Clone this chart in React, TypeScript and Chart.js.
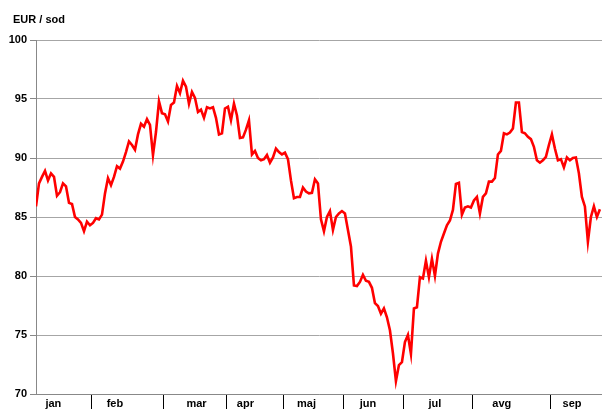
import React, { useEffect, useRef } from "react";
import { Chart, registerables } from "chart.js";

Chart.register(...registerables);

const UNIT_LABEL = "EUR / sod";

const PRICES: number[] = [
  85.9, 87.85, 88.4, 88.9, 88.1, 88.7, 88.4, 86.8, 87.1, 87.85,
  87.6, 86.2, 86.1, 85.0, 84.8, 84.5, 83.8, 84.6, 84.3, 84.5,
  84.9, 84.8, 85.2, 87.0, 88.3, 87.7, 88.4, 89.3, 89.1, 89.7,
  90.5, 91.4, 91.1, 90.7, 92.0, 92.9, 92.65, 93.3, 92.8, 90.25,
  92.2, 94.8, 93.8, 93.7, 93.1, 94.5, 94.7, 96.1, 95.5, 96.55,
  96.05, 94.6, 95.6, 95.1, 93.9, 94.1, 93.4, 94.3, 94.2, 94.3,
  93.4, 92.0, 92.1, 94.2, 94.35, 93.2, 94.6, 93.6, 91.7, 91.75,
  92.4, 93.2, 90.3, 90.6, 90.0, 89.8, 89.9, 90.25, 89.6, 90.05,
  90.8, 90.5, 90.3, 90.45, 89.9, 88.1, 86.6, 86.7, 86.7, 87.5,
  87.15, 87.0, 87.05, 88.2, 87.85, 84.8, 83.8, 85.0, 85.5, 83.9,
  85.0, 85.3, 85.5, 85.3, 83.9, 82.5, 79.2, 79.15, 79.5, 80.1,
  79.6, 79.5, 79.0, 77.7, 77.45, 76.8, 77.25, 76.5, 75.4, 73.45,
  71.1, 72.45, 72.7, 74.4, 75.0, 73.4, 77.25, 77.35, 79.9, 79.8,
  81.3, 79.9, 81.45, 80.0, 81.9, 82.9, 83.6, 84.3, 84.7, 85.6,
  87.8, 87.9, 85.2, 85.8, 85.9, 85.8, 86.4, 86.7, 85.3, 86.7,
  87.0, 88.0, 88.0, 88.3, 90.3, 90.6, 92.1, 92.0, 92.15, 92.5,
  94.7, 94.7, 92.2, 92.1, 91.8, 91.6, 90.95, 89.8, 89.6, 89.8,
  90.1, 91.1, 92.0, 90.8, 89.8, 89.9, 89.2, 90.05, 89.8, 90.0,
  90.05, 88.7, 86.7, 85.9, 82.9, 85.0, 85.9, 85.0, 85.65,
];

const MONTHS = ["jan", "feb", "mar", "apr", "maj", "jun", "jul", "avg", "sep"];
// positions (in trading-day index units) where each month name sits
const MONTH_LABEL_POS = [5.8, 26.3, 53.5, 69.8, 90.2, 110.7, 133, 155.3, 178.7];
// month boundaries (tick marks), index units
const MONTH_BOUNDARIES = [18.5, 42.5, 63.5, 82.5, 102.5, 122.5, 145.5, 171.5];

const X_MIN = 0;
const X_MAX = 188.7;
const Y_MIN = 70;
const Y_MAX = 100;
const Y_STEP = 5;

const FONT_FAMILY = "'Liberation Sans', Arial, sans-serif";

const titlePlugin = {
  id: "unitTitle",
  afterDraw(chart: any) {
    const ctx = chart.ctx;
    ctx.save();
    ctx.font = `bold 11px ${FONT_FAMILY}`;
    ctx.fillStyle = "#000";
    ctx.textBaseline = "alphabetic";
    ctx.textAlign = "left";
    ctx.fillText(UNIT_LABEL, 13, 23);
    ctx.restore();
  },
};

export default function App() {
  const canvasRef = useRef<HTMLCanvasElement | null>(null);

  useEffect(() => {
    if (!canvasRef.current) return;
    const data = PRICES.map((v, i) => ({ x: i, y: v }));
    const chart = new Chart(canvasRef.current, {
      type: "line",
      data: {
        datasets: [
          {
            data,
            borderColor: "#ff0000",
            borderWidth: 2.6,
            pointRadius: 0,
            tension: 0,
            fill: false,
          },
        ],
      },
      options: {
        animation: false,
        responsive: false,
        devicePixelRatio: 1,
        layout: { padding: { top: 40, left: 0, right: 0, bottom: 0 } },
        plugins: {
          legend: { display: false },
          tooltip: { enabled: false },
          title: { display: false },
        },
        scales: {
          x: {
            type: "linear",
            min: X_MIN,
            max: X_MAX,
            afterBuildTicks: (scale: any) => {
              const vals = [...MONTH_BOUNDARIES, ...MONTH_LABEL_POS].sort((a, b) => a - b);
              scale.ticks = vals.map((v) => ({ value: v }));
            },
            afterFit: (scale: any) => {
              scale.height = 15;
            },
            ticks: {
              autoSkip: false,
              maxRotation: 0,
              minRotation: 0,
              padding: -12,
              color: "#000",
              font: { family: FONT_FAMILY, size: 11, weight: "bold" },
              callback: (value: any) => {
                const i = MONTH_LABEL_POS.indexOf(Number(value));
                return i >= 0 ? MONTHS[i] : "";
              },
            },
            grid: {
              display: true,
              drawOnChartArea: false,
              drawTicks: true,
              tickLength: 15,
              tickWidth: 1,
              tickColor: (ctx: any) =>
                ctx.tick && MONTH_BOUNDARIES.includes(ctx.tick.value) ? "#000" : "rgba(0,0,0,0)",
            },
            border: { display: true, color: "#888", width: 1 },
          },
          y: {
            type: "linear",
            min: Y_MIN,
            max: Y_MAX,
            afterFit: (scale: any) => {
              scale.width = 36;
            },
            ticks: {
              stepSize: Y_STEP,
              padding: 3,
              color: "#000",
              font: { family: FONT_FAMILY, size: 11, weight: "bold" },
            },
            grid: {
              color: "#a6a6a6",
              lineWidth: 1,
              drawTicks: true,
              tickLength: 6,
              tickColor: "#888",
            },
            border: { display: true, color: "#888", width: 1 },
          },
        },
      },
      plugins: [titlePlugin],
    });
    return () => chart.destroy();
  }, []);

  return (
    <div style={{ position: "absolute", left: 0, top: 0, width: 602, height: 409, background: "#fff" }}>
      <canvas ref={canvasRef} width={602} height={409} />
    </div>
  );
}
